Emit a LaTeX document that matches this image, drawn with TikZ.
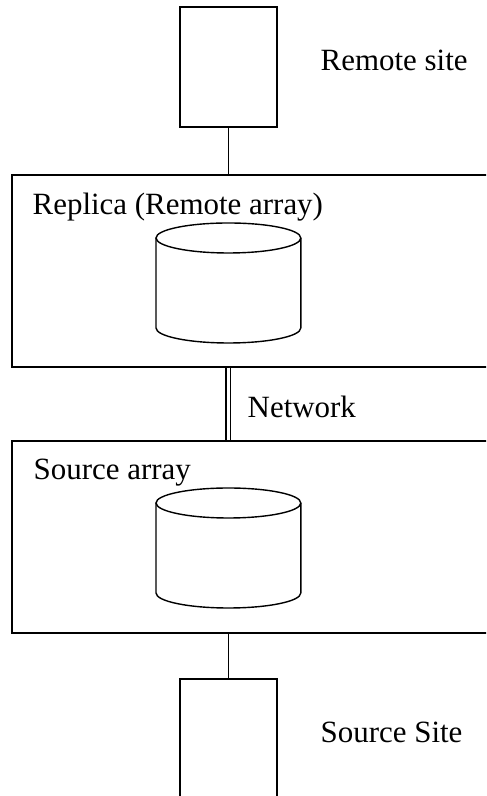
\documentclass[tikz,border=0pt]{standalone}
\usepackage{fontspec}
\setmainfont{Liberation Serif}
\usepackage{tikz}
\usetikzlibrary{positioning,calc}

\begin{document}
\begin{tikzpicture}[line width=1pt,
  sitebox/.style={draw,rectangle,minimum width=2.42cm,inner sep=0pt},
  arraybox/.style={draw,rectangle,minimum width=12.3cm,minimum height=4.8cm,inner sep=0pt},
  lbl/.style={anchor=base west,inner sep=0pt,font=\fontsize{22}{26}\selectfont}]
\useasboundingbox (0,0) rectangle (12.15,19.9);
\clip (0,0) rectangle (12.15,19.9);
% sites
\node[sitebox,minimum height=3cm] (remotesite) at (5.71,18.225) {};
\node[sitebox,minimum height=3.45cm] (sourcesite) at (5.71,1.2) {};
% arrays
\node[arraybox] (replica) at (6.45,13.125) {};
\node[arraybox] (source) at (6.45,6.475) {};
% disks
\foreach \y/\h in {13.95/2.25,7.325/2.25}{
  \draw (3.9,\y) -- (3.9,\y-\h) arc (180:360:1.81 and 0.375) -- (7.52,\y);
  \draw (5.71,\y) ellipse (1.81 and 0.375);
}
% links
\draw (remotesite.south) -- (remotesite.south |- replica.north);
\draw (sourcesite.north) -- (sourcesite.north |- source.south);
\draw[double,double distance=2.6pt,line width=0.8pt] (remotesite.south |- replica.south) -- (remotesite.south |- source.north);
% labels
\node[lbl] (remotelbl) at (8.0,18.125) {Remote site};
\node[lbl] (replicalbl) at (0.8,14.525) {Replica (Remote array)};
\node[lbl] (netlbl) at (6.175,9.45) {Network};
\node[lbl] (sourcelbl) at (0.825,7.9) {Source array};
\node[lbl] (sitelbl) at (8.0,1.325) {Source Site};
\end{tikzpicture}
\end{document}
